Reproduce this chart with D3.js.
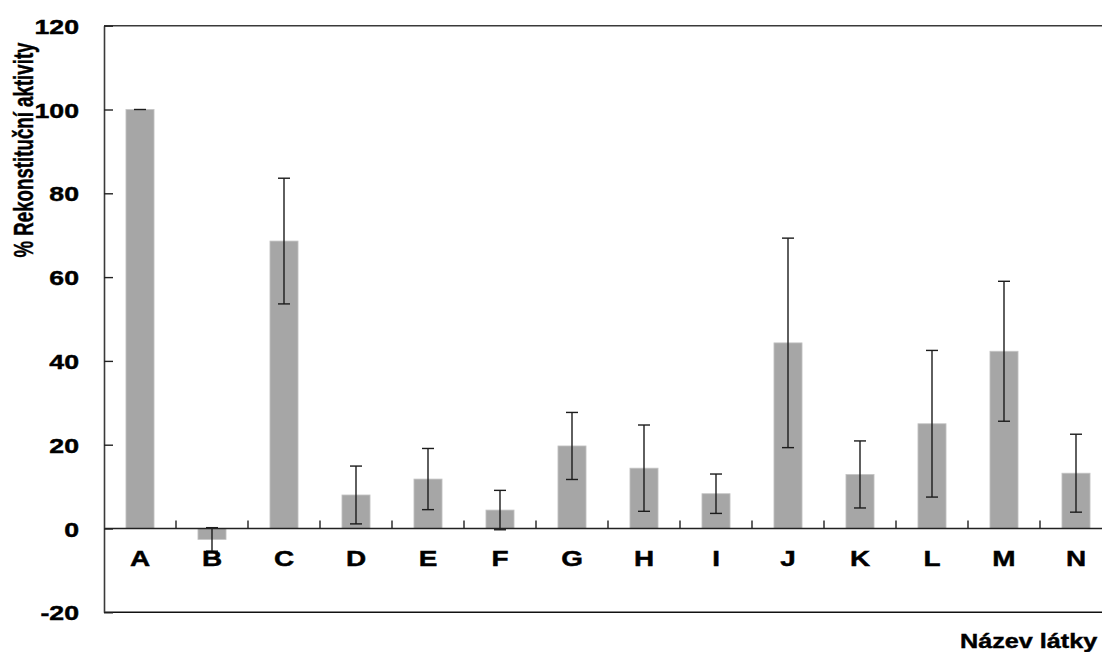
<!DOCTYPE html>
<html>
<head>
<meta charset="utf-8">
<script src="https://cdn.jsdelivr.net/npm/d3@7"></script>
<style>
  html, body { margin: 0; padding: 0; background: #fff; }
  svg { display: block; }
  svg text { font-family: "Liberation Sans", Arimo, Arial, sans-serif; }
</style>
</head>
<body>
<svg id="chart" width="1102" height="652"></svg>
<script>
// Categories, mean values and error half-widths
const categories = ["A", "B", "C", "D", "E", "F", "G", "H", "I", "J", "K", "L", "M", "N"];
const values = [100, -2.6, 68.6, 8.0, 11.8, 4.4, 19.7, 14.4, 8.3, 44.3, 12.9, 25.0, 42.3, 13.2];
const errors = [0, 2.8, 15.0, 6.9, 7.3, 4.7, 8.0, 10.3, 4.7, 25.0, 8.0, 17.5, 16.7, 9.3];
const yTicks = [-20, 0, 20, 40, 60, 80, 100, 120];
const yTitle = "% Rekonstituční aktivity";
const xTitle = "Název látky";

const FONT = "'Liberation Sans', Arimo, Arial, sans-serif";
const svg = d3.select("#chart");
const stretch = 1.27; // horizontal stretch applied to the labels
const heavy = 0.45;   // outline that thickens the bold glyphs slightly

const plot = { left: 104, right: 1112, top: 25.7, bottom: 612.3 };

const x = d3.scaleBand().domain(categories).range([plot.left, plot.right]).padding(0);
const y = d3.scaleLinear().domain([-20, 120]).range([plot.bottom, plot.top]);
const barW = x.bandwidth() * 0.39;

const data = categories.map((c, i) => ({ c, v: values[i], e: errors[i] }));

// Bars
svg.append("g").selectAll("rect").data(data).join("rect")
  .attr("x", d => x(d.c) + (x.bandwidth() - barW) / 2)
  .attr("y", d => y(Math.max(0, d.v)))
  .attr("width", barW)
  .attr("height", d => Math.abs(y(d.v) - y(0)))
  .attr("fill", "#a6a6a6")
  .attr("stroke", "#c4c4c4")
  .attr("stroke-width", 0.8);

// Error bars
const capW = 12;
const eb = svg.append("g").attr("stroke", "#1c1c1c").attr("stroke-width", 1.4).attr("fill", "none");
data.forEach(d => {
  const cx = x(d.c) + x.bandwidth() / 2;
  const y1 = y(d.v + d.e), y2 = y(d.v - d.e);
  if (d.e > 0) eb.append("line").attr("x1", cx).attr("x2", cx).attr("y1", y1).attr("y2", y2);
  eb.append("line").attr("x1", cx - capW / 2).attr("x2", cx + capW / 2).attr("y1", y1).attr("y2", y1);
  if (d.e > 0) eb.append("line").attr("x1", cx - capW / 2).attr("x2", cx + capW / 2).attr("y1", y2).attr("y2", y2);
});

// Frame: top and bottom borders
svg.append("line").attr("x1", plot.left).attr("x2", plot.right)
  .attr("y1", plot.top).attr("y2", plot.top).attr("stroke", "#3a3a3a").attr("stroke-width", 1.6);
svg.append("line").attr("x1", plot.left).attr("x2", plot.right)
  .attr("y1", plot.bottom).attr("y2", plot.bottom).attr("stroke", "#111").attr("stroke-width", 1.5);

// Category axis along zero with inward ticks at band boundaries
const xAxisG = svg.append("g");
xAxisG.append("line").attr("x1", plot.left).attr("x2", plot.right)
  .attr("y1", y(0)).attr("y2", y(0)).attr("stroke", "#222").attr("stroke-width", 1.5);
xAxisG.selectAll("line.tick").data(categories.slice(1)).join("line")
  .attr("class", "tick")
  .attr("x1", c => x(c)).attr("x2", c => x(c))
  .attr("y1", y(0)).attr("y2", y(0) - 8)
  .attr("stroke", "#222").attr("stroke-width", 1.4);

// Value axis
const yAxis = d3.axisLeft(y).tickValues(yTicks).tickFormat(d => String(d))
  .tickSizeInner(-9).tickSizeOuter(0).tickPadding(0);
const yAxisG = svg.append("g").attr("transform", `translate(${plot.left},0)`).call(yAxis)
  .attr("font-family", FONT);
yAxisG.select(".domain").attr("stroke", "#3a3a3a").attr("stroke-width", 1.6);
yAxisG.selectAll(".tick line").attr("stroke", "#222").attr("stroke-width", 1.4);
yAxisG.selectAll(".tick text")
  .attr("x", 0)
  .attr("dy", "0.36em")
  .attr("transform", `translate(-25,0) scale(${stretch},1)`)
  .attr("text-anchor", "end")
  .attr("font-size", 21)
  .attr("font-weight", "bold")
  .attr("fill", "#000")
  .attr("stroke", "#000")
  .attr("stroke-width", heavy);

// Category labels
svg.append("g").selectAll("text").data(categories).join("text")
  .attr("transform", c => `translate(${x(c) + x.bandwidth() / 2},566) scale(${stretch},1)`)
  .attr("text-anchor", "middle")
  .attr("font-size", 22)
  .attr("font-weight", "bold")
  .attr("fill", "#000")
  .attr("stroke", "#000")
  .attr("stroke-width", heavy)
  .text(c => c);

// Axis titles
svg.append("text")
  .attr("transform", `translate(33,150) scale(1.5,1) rotate(-90)`)
  .attr("text-anchor", "middle")
  .attr("font-size", 18.7)
  .attr("font-weight", "bold")
  .attr("fill", "#000")
  .attr("stroke", "#000")
  .attr("stroke-width", 0.3)
  .text(yTitle);

svg.append("text")
  .attr("transform", `translate(960,648) scale(1.2,1)`)
  .attr("text-anchor", "start")
  .attr("font-size", 21)
  .attr("font-weight", "bold")
  .attr("fill", "#000")
  .attr("stroke", "#000")
  .attr("stroke-width", heavy)
  .text(xTitle);
</script>
</body>
</html>
